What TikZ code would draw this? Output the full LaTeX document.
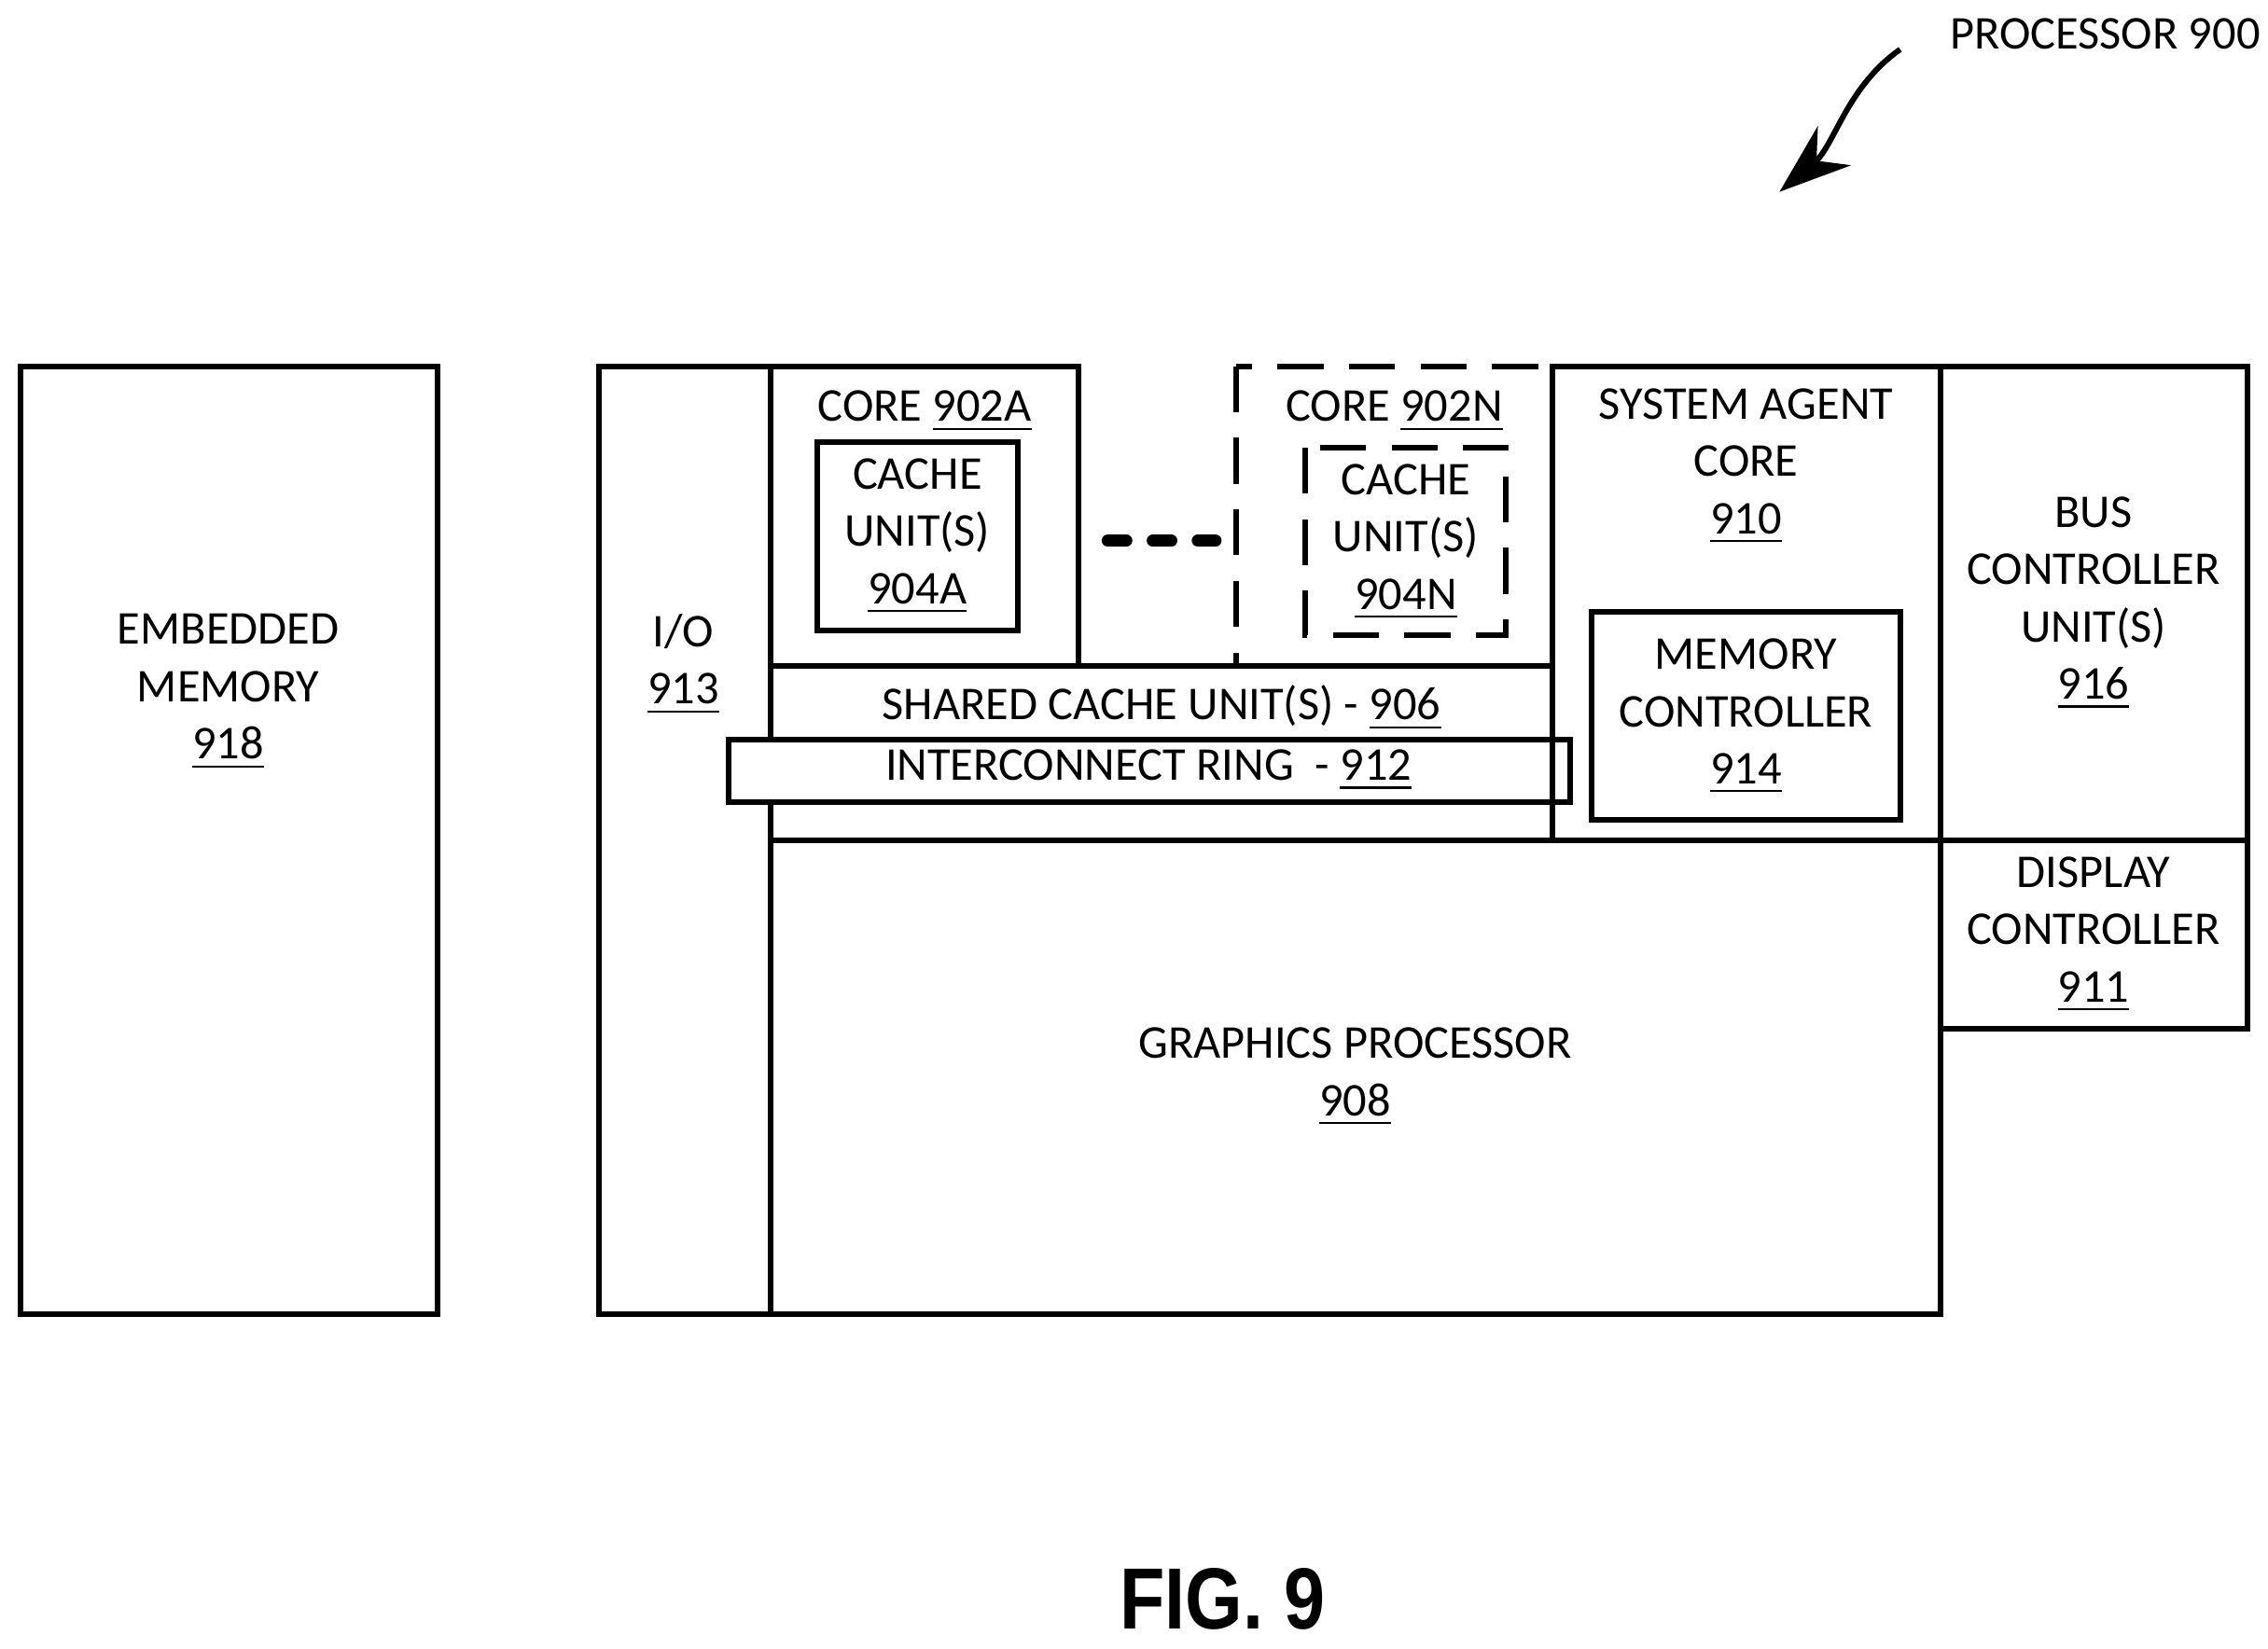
\documentclass[tikz,border=0pt]{standalone}
\usepackage{fontspec}
\setmainfont{Carlito}
\newfontfamily\figfont{Liberation Sans}
\usetikzlibrary{arrows.meta}
\tikzset{blk/.style = {draw, line width=1.1pt},
  lbl/.style = {align=center, font=\fontsize{9.2}{11.2}\selectfont}}
\begin{document}
\begin{tikzpicture}[x=0.01cm, y=-0.01cm, >=Stealth]
\useasboundingbox (0,0) rectangle (1560,1134);

\draw [blk] (14,252) rectangle (301,904);
\node [lbl] (emb) at (157,476) {EMBEDDED\\MEMORY\\\underline{918}};

\draw [blk] (412,252) rectangle (530,904);
\node [lbl] (io) at (470,457) {I/O\\\underline{913}};

\draw [blk] (530,252) rectangle (742,458);
\node [lbl] (corea) at (636,283) {CORE \underline{902A}};
\draw [blk] (562,304) rectangle (700,434);
\node [lbl] (cachea) at (631,369) {CACHE\\UNIT(S)\\\underline{904A}};

\draw [line width=2.4pt, line cap=round, dash pattern=on 3.6pt off 5.2pt] (762,372) -- (836,372);

\draw [blk, dash pattern=on 9pt off 5pt] (850,252) rectangle (1068,458);
\node [lbl] (coren) at (959,283) {CORE \underline{902N}};
\draw [blk, dash pattern=on 9pt off 5pt] (898,308) rectangle (1036,437);
\node [lbl] (cachen) at (967,373) {CACHE\\UNIT(S)\\\underline{904N}};

\draw [blk] (530,458) rectangle (1068,578);
\node [lbl] (shared) at (799,487) {SHARED CACHE UNIT(S) - \underline{906}};
\draw [blk, fill=white] (501,509) rectangle (1080,552);
\node [lbl] (ring) at (790,530) {INTERCONNECT RING\ \ - \underline{912}};

\draw [blk] (1068,252) rectangle (1335,578);
\node [lbl] (agent) at (1201,321) {SYSTEM AGENT\\CORE\\\underline{910}};
\draw [blk] (1095,421) rectangle (1307,564);
\node [lbl] (memc) at (1201,493) {MEMORY\\CONTROLLER\\\underline{914}};

\draw [blk] (1335,252) rectangle (1546,578);
\node [lbl] (bus) at (1440,415) {BUS\\CONTROLLER\\UNIT(S)\\\underline{916}};
\draw [blk] (1335,578) rectangle (1546,708);
\node [lbl] (disp) at (1440,643) {DISPLAY\\CONTROLLER\\\underline{911}};

\draw [blk] (530,578) rectangle (1335,904);
\node [lbl] (gfx) at (932,741) {GRAPHICS PROCESSOR\\\underline{908}};

\node [lbl] (proc) at (1448,23) {PROCESSOR 900};
\coordinate (tail) at (1307,34);
\coordinate (head) at (1224,132);
\draw [->, line width=1.1pt, >={Stealth[length=14pt,width=10pt]}] (tail) .. controls (1270,60) and (1262,100) .. (head);

\node [font=\figfont\bfseries\fontsize{17}{20}\selectfont, xscale=0.85] (fig) at (841,1100) {FIG. 9};
\end{tikzpicture}
\end{document}
